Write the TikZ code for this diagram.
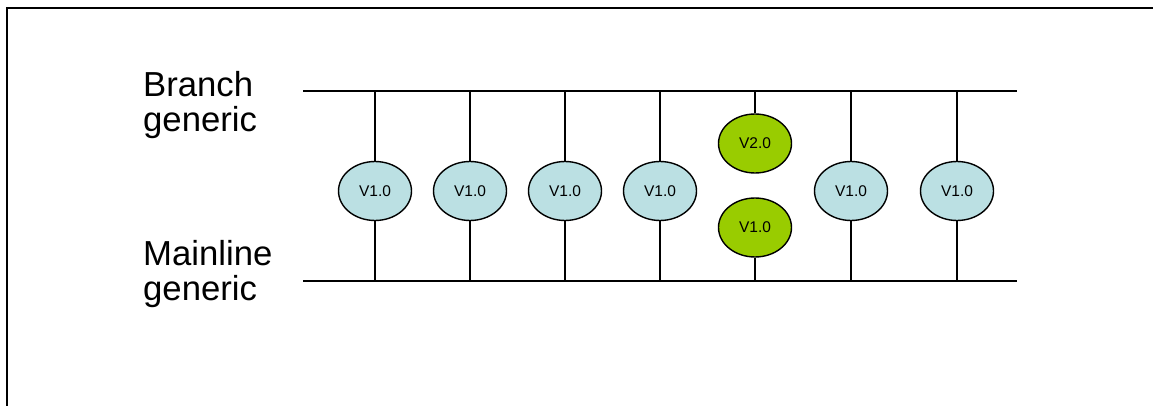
\documentclass[tikz,border=0pt]{standalone}
\usepackage{fontspec}
\setmainfont{Liberation Sans}
\usetikzlibrary{shapes.geometric}
\definecolor{verblue}{HTML}{BBE0E3}
\definecolor{vergreen}{HTML}{99CC00}
\begin{document}
\begin{tikzpicture}[x=1pt,y=-1pt,
  verbox/.style={ellipse,draw=black,line width=1.4pt,minimum width=73pt,minimum height=59pt,inner sep=0pt,font=\fontsize{15.5}{18}\selectfont},
  oldver/.style={verbox,fill=verblue},
  newver/.style={verbox,fill=vergreen},
  branchline/.style={line width=2pt},
  link/.style={line width=1.5pt},
  lbl/.style={anchor=base west,inner sep=0pt,align=left,font=\fontsize{34.7}{35}\selectfont}
]
\useasboundingbox (0,0) rectangle (1153,406);
% frame
\draw[line width=2.2pt] (7,406) -- (7,8) -- (1153,8);
% labels (anchor at the baseline of the last line)
\node[lbl] (lb) at (143,131.7) {Branch\\generic};
\node[lbl] (lm) at (143,300) {Mainline\\generic};
% lines
\coordinate (bl) at (303,91);
\coordinate (br) at (1017,91);
\coordinate (ml) at (303,281);
\coordinate (mr) at (1017,281);
\draw[branchline] (bl) -- (br);
\draw[branchline] (ml) -- (mr);
% versions
\node[oldver] (v1) at (375,191) {V1.0};
\node[oldver] (v2) at (470,191) {V1.0};
\node[oldver] (v3) at (565,191) {V1.0};
\node[oldver] (v4) at (660,191) {V1.0};
\node[newver] (g2) at (755,143.5) {V2.0};
\node[newver] (g1) at (755,227.5) {V1.0};
\node[oldver] (v6) at (851,191) {V1.0};
\node[oldver] (v7) at (957,191) {V1.0};
\foreach \n in {v1,v2,v3,v4,v6,v7}{
  \draw[link] (\n.north) -- (\n.north |- bl);
  \draw[link] (\n.south) -- (\n.south |- ml);
}
\draw[link] (g2.north) -- (g2.north |- bl);
\draw[link] (g1.south) -- (g1.south |- ml);
\end{tikzpicture}
\end{document}
